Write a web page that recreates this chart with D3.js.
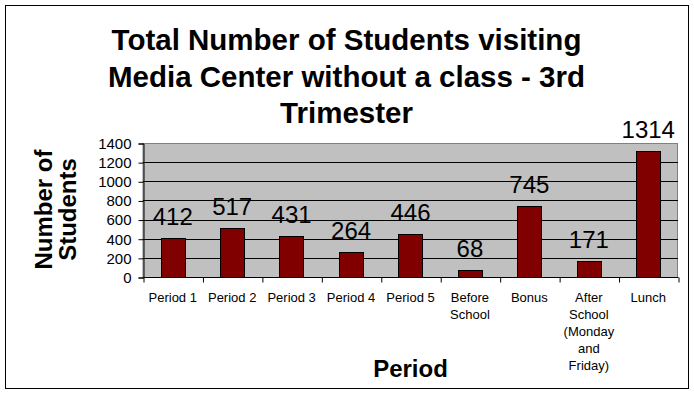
<!doctype html>
<html lang="en">
<head>
<meta charset="utf-8">
<title>Total Number of Students visiting Media Center</title>
<script src="https://d3js.org/d3.v7.min.js"></script>
<style>
  body { margin: 0; background: #fff; }
  svg { display: block; font-family: Arial, "Liberation Sans", sans-serif; }
  .yaxis text { font-size: 15px; fill: #000; }
  .xlab { font-size: 13px; fill: #000; }
  .vlab { font-size: 24px; fill: #000; }
  .title { font-size: 29.5px; font-weight: bold; }
  .axtitle { font-size: 24px; font-weight: bold; }
</style>
</head>
<body>
<svg id="main" width="694" height="395"></svg>
<script>
// data
let categories = ['Period 1', 'Period 2', 'Period 3', 'Period 4', 'Period 5',
                  'Before\nSchool', 'Bonus', 'After\nSchool\n(Monday\nand\nFriday)', 'Lunch'];
let students = [412, 517, 431, 264, 446, 68, 745, 171, 1314];
let yTicks = [0, 200, 400, 600, 800, 1000, 1200, 1400];
let titleLines = ['Total Number of Students visiting', 'Media Center without a class - 3rd', 'Trimester'];
let yTitleLines = ['Number of', 'Students'];

let svg = d3.select('#main');
let plot = {left: 143, right: 678, top: 143, bottom: 277};

let x = d3.scaleBand().domain(d3.range(categories.length)).range([plot.left, plot.right]).padding(0);
let xEdge = d3.scaleLinear().domain([0, categories.length]).range([plot.left, plot.right]);
let y = d3.scaleLinear().domain([0, 1400]).range([plot.bottom, plot.top]);

// outer frame
svg.append('rect').attr('x', 5.5).attr('y', 5.5).attr('width', 683).attr('height', 383)
    .attr('fill', '#fff').attr('stroke', '#000').attr('stroke-width', 1);

// plot area
svg.append('rect').attr('x', plot.left).attr('y', plot.top + 0.5)
    .attr('width', plot.right - plot.left - 0.5).attr('height', plot.bottom - plot.top)
    .attr('fill', '#c0c0c0').attr('stroke', '#808080').attr('stroke-width', 1);

// gridlines
svg.append('g').selectAll('line').data(yTicks.filter(d => d > 0 && d < 1400)).join('line')
    .attr('x1', plot.left).attr('x2', plot.right)
    .attr('y1', d => Math.round(y(d)) + 0.5).attr('y2', d => Math.round(y(d)) + 0.5)
    .attr('stroke', '#000').attr('stroke-width', 1);

// bars
let bw = x.bandwidth() * 0.41;
svg.append('g').selectAll('rect').data(students).join('rect')
    .attr('x', (d, i) => Math.round(x(i) + x.bandwidth() / 2 - bw / 2) + 0.5)
    .attr('y', d => Math.round(y(d)) + 0.5)
    .attr('width', Math.round(bw))
    .attr('height', d => Math.round(y(0)) - Math.round(y(d)))
    .attr('fill', '#800000').attr('stroke', '#000').attr('stroke-width', 1);

// value labels
svg.append('g').selectAll('text').data(students).join('text')
    .attr('class', 'vlab')
    .attr('x', (d, i) => x(i) + x.bandwidth() / 2)
    .attr('y', d => y(d) - 13)
    .attr('text-anchor', 'middle')
    .text(d => d);

// y axis
let yAxis = svg.append('g').attr('class', 'yaxis')
    .attr('transform', 'translate(' + (plot.left + 0.5) + ',0.5)')
    .call(d3.axisLeft(y).tickValues(yTicks).tickFormat(d3.format('d')).tickSize(5).tickPadding(7));
yAxis.select('.domain').attr('stroke', '#000');
yAxis.selectAll('.tick line').attr('stroke', '#000');

// x axis (ticks at category edges)
let xAxis = svg.append('g')
    .attr('transform', 'translate(0.5,' + (plot.bottom + 0.5) + ')')
    .call(d3.axisBottom(xEdge).tickValues(d3.range(categories.length + 1)).tickSize(5).tickFormat(''));
xAxis.select('.domain').attr('d', 'M' + plot.left + ',0H' + plot.right).attr('stroke', '#000');
xAxis.selectAll('.tick line').attr('stroke', '#000');

// x labels
svg.append('g').selectAll('text').data(categories).join('text')
    .attr('class', 'xlab')
    .attr('text-anchor', 'middle')
    .attr('transform', (d, i) => 'translate(' + (x(i) + x.bandwidth() / 2) + ',302)')
    .selectAll('tspan').data(d => d.split('\n')).join('tspan')
    .attr('x', 0).attr('y', (d, i) => i * 17)
    .text(d => d);

// title
svg.append('text').attr('class', 'title').attr('text-anchor', 'middle')
    .selectAll('tspan').data(titleLines).join('tspan')
    .attr('x', 346.5).attr('y', (d, i) => 50 + i * 36.5)
    .text(d => d);

// axis titles
svg.append('text').attr('class', 'axtitle').attr('text-anchor', 'middle')
    .attr('x', (plot.left + plot.right) / 2).attr('y', 377).text('Period');

svg.append('g').selectAll('text').data(yTitleLines).join('text')
    .attr('class', 'axtitle').attr('text-anchor', 'middle')
    .attr('transform', (d, i) => 'translate(' + (52 + i * 24) + ',209.5) rotate(-90)')
    .text(d => d);
</script>
</body>
</html>
